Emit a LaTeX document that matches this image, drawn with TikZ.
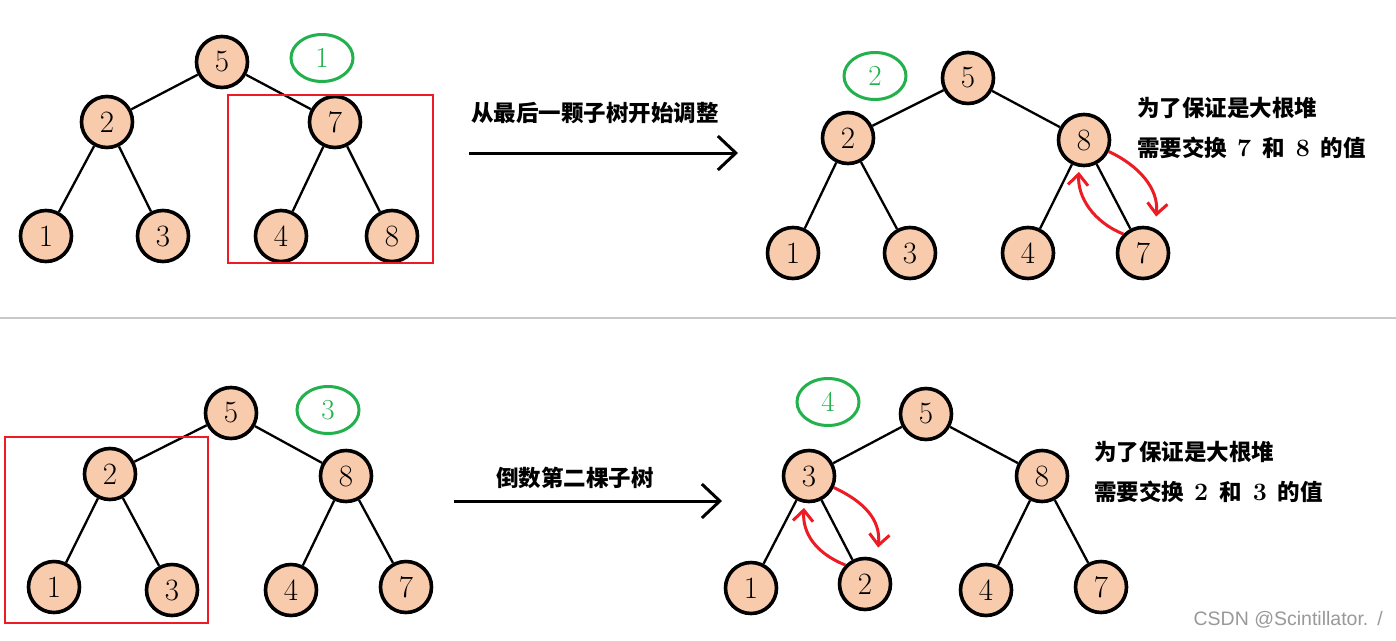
\documentclass[tikz,border=0pt]{standalone}
\usepackage{fontspec}
\newfontfamily\cjk{Noto Sans CJK SC}
\newfontfamily\wmfont{Liberation Sans}
\usetikzlibrary{arrows.meta,shapes.geometric}
\definecolor{peach}{HTML}{F8CBAD}
\definecolor{tred}{HTML}{ED1C24}
\definecolor{tgreen}{HTML}{22B14C}
\definecolor{sepgray}{HTML}{C8C8C8}
\newcommand{\bnum}[1]{{\fontsize{25}{26}\selectfont\bfseries\rmfamily #1}}
\begin{document}
\begin{tikzpicture}[x=1pt,y=-1pt,
  hnode/.style={circle,draw=black,line width=3.6pt,fill=peach,minimum size=51pt,inner sep=0pt,font=\fontsize{31}{33}\selectfont},
  tedge/.style={line width=2.3pt},
  tag/.style={ellipse,draw=tgreen,line width=3pt,minimum width=62pt,minimum height=47pt,inner sep=0pt,text=tgreen,font=\fontsize{29}{30}\selectfont},
  subbox/.style={draw=tred,line width=2.8pt},
  bigarrow/.style={line width=3pt,-{Straight Barb[length=18pt,width=34pt,line width=3pt]}},
  swap/.style={draw=tred,line width=3pt,-{Straight Barb[length=11pt,width=20pt,line width=3pt]}},
  cjktext/.style={anchor=west,inner sep=0pt,font=\fontsize{22.5}{24}\selectfont\cjk\bfseries}
]
\useasboundingbox (0,0) rectangle (1396,640);
\fill[white] (0,0) rectangle (1396,640);

% ---------- panel 1 ----------
\node[hnode] (a5) at (222,62) {5};
\node[hnode] (a2) at (107,122) {2};
\node[hnode] (a7) at (335,122) {7};
\node[hnode] (a1) at (46,236) {1};
\node[hnode] (a3) at (163,236) {3};
\node[hnode] (a4) at (281,236) {4};
\node[hnode] (a8) at (392,236) {8};
\draw[tedge] (a5) -- (a2); \draw[tedge] (a5) -- (a7);
\draw[tedge] (a2) -- (a1); \draw[tedge] (a2) -- (a3);
\draw[tedge] (a7) -- (a4); \draw[tedge] (a7) -- (a8);
\node[tag] (t1) at (322,58) {1};
\draw[subbox] (228,95) rectangle (433,263);

\coordinate (p1s) at (469,153);
\coordinate (p1e) at (738,153);
\draw[bigarrow] (p1s) -- (p1e);
\node[cjktext] (l1) at (471,113) {从最后一颗子树开始调整};

% ---------- panel 2 ----------
\node[hnode] (b5) at (968,78) {5};
\node[hnode] (b2) at (848,138) {2};
\node[hnode] (b8) at (1084,140) {8};
\node[hnode] (b1) at (793,253) {1};
\node[hnode] (b3) at (910,253) {3};
\node[hnode] (b4) at (1028,253) {4};
\node[hnode] (b7) at (1143,253) {7};
\draw[tedge] (b5) -- (b2); \draw[tedge] (b5) -- (b8);
\draw[tedge] (b2) -- (b1); \draw[tedge] (b2) -- (b3);
\draw[tedge] (b8) -- (b4); \draw[tedge] (b8) -- (b7);
\node[tag] (t2) at (875,76) {2};
\draw[swap,shorten >=12pt] (b8.-25) .. controls +(30,14) and +(4,-40) .. (b7.64);
\draw[swap,shorten >=5pt] (b7.136) .. controls +(-30,-12) and +(-2,30) .. (b8.-100);
\node[cjktext] (r1) at (1137,108) {为了保证是大根堆};
\node[cjktext] (r2) at (1137,148) {需要交换\hspace{10pt}\bnum{7}\hspace{11pt}和\hspace{11pt}\bnum{8}\hspace{11pt}的值};

% ---------- separator ----------
\coordinate (sepl) at (0,318);
\coordinate (sepr) at (1396,318);
\draw[sepgray,line width=2.4pt] (sepl) -- (sepr);

% ---------- panel 3 ----------
\node[hnode] (c5) at (231,413) {5};
\node[hnode] (c2) at (110,474) {2};
\node[hnode] (c8) at (346,476) {8};
\node[hnode] (c1) at (54,587) {1};
\node[hnode] (c3) at (172,590) {3};
\node[hnode] (c4) at (291,590) {4};
\node[hnode] (c7) at (406,587) {7};
\draw[tedge] (c5) -- (c2); \draw[tedge] (c5) -- (c8);
\draw[tedge] (c2) -- (c1); \draw[tedge] (c2) -- (c3);
\draw[tedge] (c8) -- (c4); \draw[tedge] (c8) -- (c7);
\node[tag] (t3) at (328,410) {3};
\draw[subbox] (5,437) rectangle (208,623);

\coordinate (p3s) at (454,501);
\coordinate (p3e) at (722,501);
\draw[bigarrow] (p3s) -- (p3e);
\node[cjktext] (l3) at (496,478) {倒数第二棵子树};

% ---------- panel 4 ----------
\node[hnode] (d5) at (926,414) {5};
\node[hnode] (d3) at (809,476) {3};
\node[hnode] (d8) at (1042,476) {8};
\node[hnode] (d1) at (751,588) {1};
\node[hnode] (d2) at (865,584) {2};
\node[hnode] (d4) at (986,590) {4};
\node[hnode] (d7) at (1101,587) {7};
\draw[tedge] (d5) -- (d3); \draw[tedge] (d5) -- (d8);
\draw[tedge] (d3) -- (d1); \draw[tedge] (d3) -- (d2);
\draw[tedge] (d8) -- (d4); \draw[tedge] (d8) -- (d7);
\node[tag] (t4) at (828,402) {4};
\draw[swap,shorten >=12pt] (d3.-25) .. controls +(30,14) and +(4,-40) .. (d2.64);
\draw[swap,shorten >=5pt] (d2.136) .. controls +(-30,-12) and +(-2,30) .. (d3.-100);
\node[cjktext] (r3) at (1094,452) {为了保证是大根堆};
\node[cjktext] (r4) at (1094,492) {需要交换\hspace{10pt}\bnum{2}\hspace{11pt}和\hspace{11pt}\bnum{3}\hspace{11pt}的值};

% ---------- watermark ----------
\node[anchor=east,inner sep=0pt,text=black!40,font=\fontsize{19.5}{21}\selectfont\wmfont] (wm) at (1383,620) {CSDN @Scintillator.\hspace{9pt}/};
\end{tikzpicture}
\end{document}
